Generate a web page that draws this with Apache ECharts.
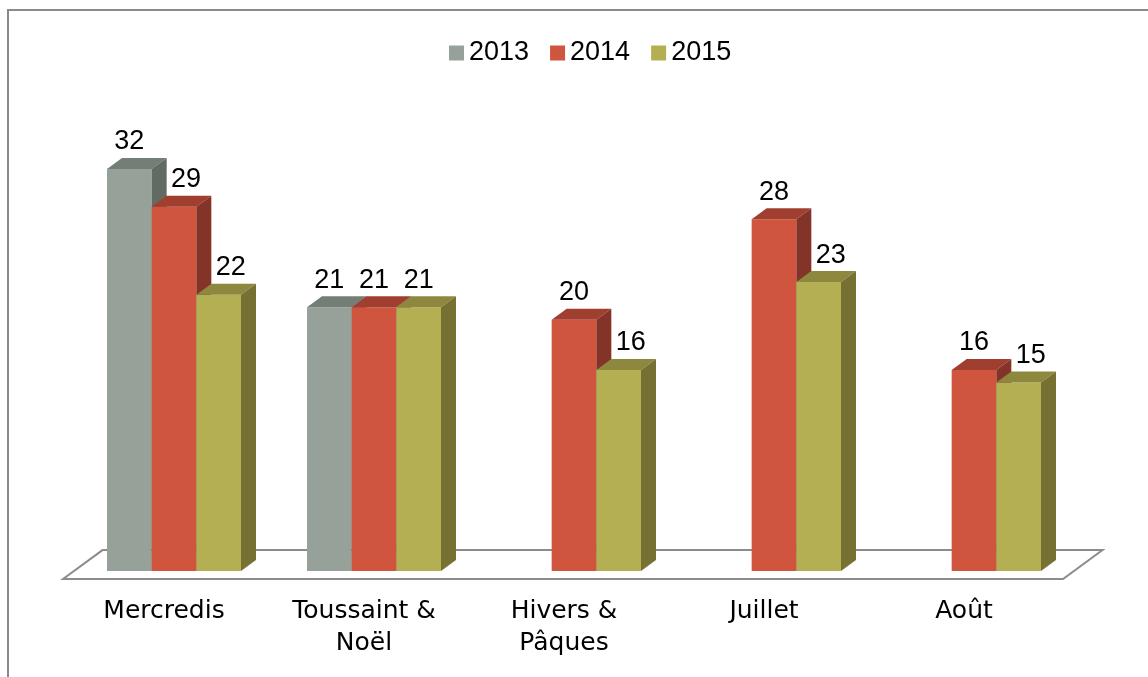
<!DOCTYPE html>
<html>
<head>
<meta charset="utf-8">
<script src="https://cdn.jsdelivr.net/npm/echarts@6/dist/echarts.min.js"></script>
<style>html,body{margin:0;padding:0;background:#fff;}#c{width:1148px;height:677px;}</style>
</head>
<body>
<div id="c"></div>
<script>
const categories = ['Mercredis', 'Toussaint &\nNoël', 'Hivers &\nPâques', 'Juillet', 'Août'];
const seriesNames = ['2013', '2014', '2015'];
const values2013 = [32, 21, null, null, null];
const values2014 = [29, 21, 20, 28, 16];
const values2015 = [22, 21, 16, 23, 15];
const allValues = [values2013, values2014, values2015];

const faceColors = [
  {front: '#96A299', top: '#737E75', side: '#616B63'},
  {front: '#CF553F', top: '#A03F2F', side: '#843328'},
  {front: '#B5AF54', top: '#8E883F', side: '#767133'}
];
const DX = 15, DY = -11;
const NUM_FONT = '27px "Liberation Sans", Arial, sans-serif';

function barRenderer(s) {
  return function (params, api) {
    const cat = api.value(0);
    const val = api.value(1);
    const base = api.coord([cat, 0]);
    const top = api.coord([cat, val]);
    const slot = api.size([1, 0])[0];
    const groupW = slot * 0.67;
    const bw = groupW / 3;
    const x0 = base[0] - groupW / 2 + s * bw;
    const x1 = x0 + bw;
    const yb = base[1], yt = top[1];
    const c = faceColors[s];
    let shift = 0;
    if (s > 0) {
      const prev = allValues[s - 1][cat];
      if (prev != null && prev > val) shift = 12;
    }
    return {
      type: 'group',
      children: [
        {type: 'rect', shape: {x: x0, y: yt, width: bw, height: yb - yt}, style: {fill: c.front}},
        {type: 'polygon', shape: {points: [[x0, yt], [x0 + DX, yt + DY], [x1 + DX, yt + DY], [x1, yt]]}, style: {fill: c.top}},
        {type: 'polygon', shape: {points: [[x1, yt], [x1 + DX, yt + DY], [x1 + DX, yb + DY], [x1, yb]]}, style: {fill: c.side}},
        {type: 'text', style: {text: String(val), x: (x0 + x1) / 2 + shift, y: yt - 27, align: 'center', verticalAlign: 'middle', font: NUM_FONT, fill: '#000'}}
      ]
    };
  };
}

function floorRenderer(params, api) {
  const slot = api.size([1, 0])[0];
  const p0 = api.coord([0, 0]);
  const pN = api.coord([categories.length - 1, 0]);
  const left = p0[0] - slot / 2, right = pN[0] + slot / 2, y0 = p0[1];
  const f = 0.73, b = 1.9;
  return {
    type: 'polygon',
    shape: {points: [
      [left - f * DX, y0 - f * DY], [left + b * DX, y0 + b * DY],
      [right + b * DX, y0 + b * DY], [right - f * DX, y0 - f * DY]
    ]},
    style: {fill: 'none', stroke: '#8C8C8C', lineWidth: 2}
  };
}

const series = [{
  type: 'custom', name: 'floor', renderItem: floorRenderer, data: [[0, 0]], silent: true, z: 1, clip: false
}];
seriesNames.forEach(function (name, s) {
  const data = [];
  allValues[s].forEach(function (v, i) { if (v != null) data.push([i, v]); });
  series.push({
    type: 'custom', name: name, renderItem: barRenderer(s), data: data, clip: false, z: 2 + s,
    itemStyle: {color: faceColors[s].front}
  });
});

const chart = echarts.init(document.getElementById('c'), null, {renderer: 'canvas'});
chart.setOption({
  animation: false,
  backgroundColor: '#fff',
  graphic: [{
    type: 'rect', shape: {x: 8, y: 10, width: 1300, height: 800},
    style: {fill: 'none', stroke: '#8A8A8A', lineWidth: 2}, silent: true
  }],
  legend: {
    data: seriesNames, top: 34, left: 444, icon: 'rect',
    itemWidth: 15, itemHeight: 15, itemGap: 21,
    textStyle: {fontFamily: '"Liberation Sans", Arial, sans-serif', fontSize: 27, color: '#000', lineHeight: 28}
  },
  grid: {left: 74, right: 74, top: 169, bottom: 106},
  xAxis: {
    type: 'category', data: categories, boundaryGap: true,
    axisLine: {show: false}, axisTick: {show: false}, splitLine: {show: false},
    axisLabel: {
      interval: 0, margin: 24, color: '#000', fontSize: 25, lineHeight: 32,
      fontFamily: '"DejaVu Sans", sans-serif', padding: [0, 20, 0, 0]
    }
  },
  yAxis: {type: 'value', min: 0, max: 32, show: false, splitLine: {show: false}},
  series: series
});
</script>
</body>
</html>
